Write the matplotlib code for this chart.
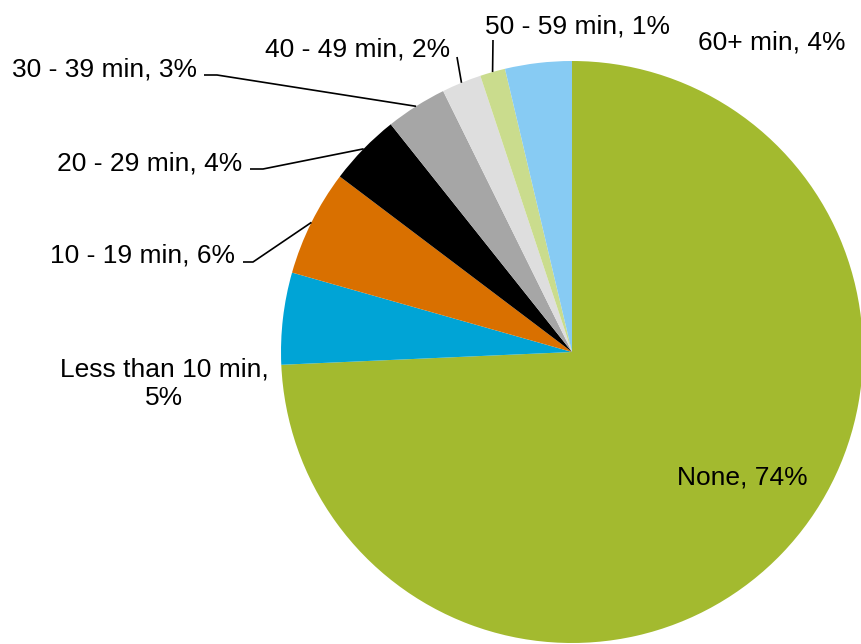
import numpy as np
import matplotlib
matplotlib.use("Agg")
import matplotlib.pyplot as plt

# ---- data ----
categories = ["None", "Less than 10 min", "10 - 19 min", "20 - 29 min",
              "30 - 39 min", "40 - 49 min", "50 - 59 min", "60+ min"]
shares = [74.3, 5.1, 5.9, 4.0, 3.4, 2.2, 1.4, 3.7]
colors = ["#A3BA2F", "#00A4D6", "#D97000", "#000000",
          "#A6A6A6", "#DEDEDE", "#CADC8D", "#87CBF3"]

W, H = 862, 644
plt.rcParams['font.family'] = ['Liberation Sans', 'DejaVu Sans']

fig = plt.figure(figsize=(W / 100, H / 100), dpi=100)
ax = fig.add_axes([0, 0, 1, 1])

def py(y):
    return H - y

cx, cy, R = 572, py(352), 291
wedges, _ = ax.pie(shares, colors=colors, startangle=90, counterclock=False,
                   center=(cx, cy), radius=R,
                   wedgeprops=dict(linewidth=0))
ax.set_xlim(0, W)
ax.set_ylim(0, H)
ax.set_aspect('equal')
ax.axis('off')

labels = [f"{c}, {round(v)}%" for c, v in zip(categories, shares)]
labels[1] = labels[1].replace("min, ", "min,\n")

# layout: (x, baseline y in px of last line, ha, leader points in px or None)
layout = {
    0: (742, 485, 'center', None),
    1: (164, 405, 'center', None),
    2: (235, 262, 'right', [(243, 262), (253, 262)]),
    3: (242, 170, 'right', [(250, 169), (263, 169)]),
    4: (197, 76, 'right', [(204, 75), (217, 75)]),
    5: (450, 56, 'right', [(457, 57)]),
    6: (485, 33, 'left', [(493, 40)]),
    7: (698, 49, 'left', None),
}

fs = 19
for i, (x, yb, ha, pts) in layout.items():
    ax.text(x, py(yb), labels[i], ha=ha, va='baseline', fontsize=fs,
            color='black', linespacing=1.22, multialignment='center')
    if pts:
        w = wedges[i]
        mid = np.deg2rad((w.theta1 + w.theta2) / 2)
        ex, ey = cx + R * np.cos(mid), cy + R * np.sin(mid)
        xs = [p[0] for p in pts] + [ex]
        ys = [py(p[1]) for p in pts] + [ey]
        ax.plot(xs, ys, color='black', lw=1.2, solid_capstyle='butt')

fig.savefig("out.png", dpi=100)
